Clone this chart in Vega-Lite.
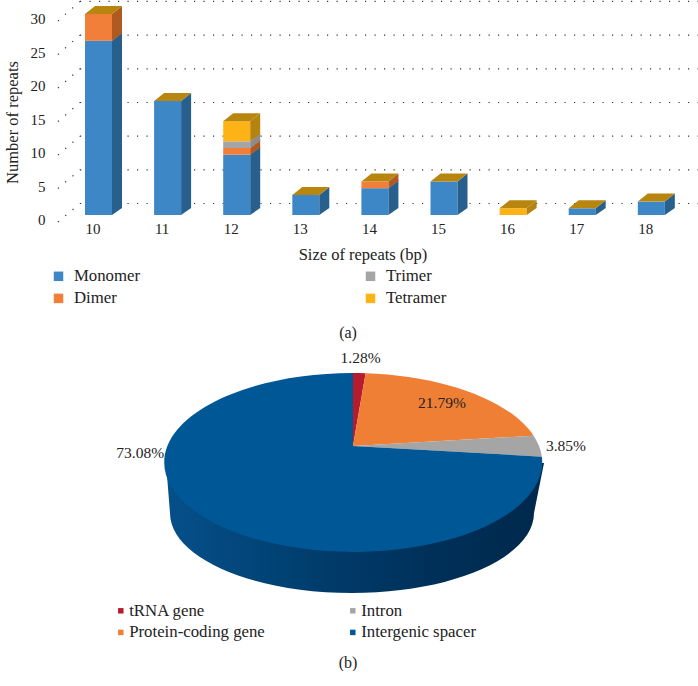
{
"$schema":"https://vega.github.io/schema/vega-lite/v6.json",
"padding":{"left":4,"top":0,"right":0,"bottom":0},
"background":"white",
"bounds":"flush",
"spacing":135,
"resolve":{"scale":{"fill":"independent","color":"independent"},"legend":{"fill":"independent"}},
"config":{"view":{"stroke":null},"font":"Liberation Serif","title":{"font":"Liberation Serif","fontWeight":"normal","fontSize":16,"color":"#222"}},
"vconcat":[
{
"width":648,"height":215,
"title":{"text":"(a)","orient":"bottom","offset":17,"dx":-27,"anchor":"middle"},
"resolve":{"axis":{"x":"independent","y":"independent"}},
"layer":[
{
"data":{"values":[{"tick":0},{"tick":5},{"tick":10},{"tick":15},{"tick":20},{"tick":25},{"tick":30}]},
"transform":[{"calculate":"datum.tick*1.005+1.72","as":"back"},{"calculate":"9.732","as":"x0"},{"calculate":"18.69","as":"x1"}],
"mark":{"type":"rule","color":"#333","strokeWidth":1.2,"strokeDash":[1.2,8.3]},
"encoding":{"x":{"field":"x0","type":"quantitative","scale":{"domain":[9.3126,18.69],"nice":false,"zero":false,"padding":0},"axis":null},"x2":{"field":"x1"},"y":{"field":"back","type":"quantitative","scale":{"domain":[0,32.09],"nice":false,"zero":false},"axis":null}}
},
{
"data":{"values":[{"tick":0},{"tick":5},{"tick":10},{"tick":15},{"tick":20},{"tick":25},{"tick":30}]},
"transform":[{"calculate":"datum.tick*1.005+1.72","as":"back"},{"calculate":"datum.tick-1.04","as":"front"},{"calculate":"9.732","as":"x0"},{"calculate":"9.414","as":"xf"}],
"mark":{"type":"rule","color":"#333","strokeWidth":1.2,"strokeDash":[1.2,8.3]},
"encoding":{"x":{"field":"xf","type":"quantitative","scale":{"domain":[9.3126,18.69],"nice":false,"zero":false,"padding":0},"axis":null},"x2":{"field":"x0"},"y":{"field":"front","type":"quantitative","scale":{"domain":[0,32.09],"nice":false,"zero":false},"axis":null},"y2":{"field":"back"}}
},
{
"data":{"values":[
{"size":10,"series":"Monomer","value":26},{"size":10,"series":"Dimer","value":4},
{"size":11,"series":"Monomer","value":17},
{"size":12,"series":"Monomer","value":9},{"size":12,"series":"Dimer","value":1},{"size":12,"series":"Trimer","value":1},{"size":12,"series":"Tetramer","value":3},
{"size":13,"series":"Monomer","value":3},
{"size":14,"series":"Monomer","value":4},{"size":14,"series":"Dimer","value":1},
{"size":15,"series":"Monomer","value":5},
{"size":16,"series":"Tetramer","value":1},
{"size":17,"series":"Monomer","value":1},
{"size":18,"series":"Monomer","value":2}
]},
"transform":[
{"calculate":"indexof(['Monomer','Dimer','Trimer','Tetramer'],datum.series)","as":"rank"},
{"stack":"value","groupby":["size"],"sort":[{"field":"rank","order":"ascending"}],"as":["y0","y1"]},
{"joinaggregate":[{"op":"max","field":"y1","as":"stackTop"}],"groupby":["size"]},
{"calculate":"'M13.5,0L23.5,-8L23.5,'+(round(datum.value*670-700)/100)+'L13.5,'+(round(datum.value*670)/100)+'Z'","as":"sidePath"}
],
"resolve":{"axis":{"x":"independent","y":"independent"}},
"layer":[
{"mark":{"type":"bar","width":27,"orient":"vertical"},
"encoding":{
"x":{"field":"size","type":"quantitative","scale":{"domain":[9.3126,18.69],"nice":false,"zero":false,"padding":0},
"axis":{"values":[10,11,12,13,14,15,16,17,18],"format":"d","title":"Size of repeats (bp)","grid":false,"domain":false,"ticks":false,"labelFont":"Liberation Serif","labelFontSize":15,"labelColor":"#222","labelPadding":6,"labelOffset":-6,"titleFont":"Liberation Serif","titleFontSize":16.5,"titleFontWeight":"normal","titleColor":"#222","titlePadding":10,"titleX":311.5}},
"y":{"field":"y0","type":"quantitative","scale":{"domain":[0,32.09],"nice":false,"zero":false},
"axis":{"values":[0,5,10,15,20,25,30],"title":"Number of repeats","grid":false,"domain":false,"ticks":false,"labelFont":"Liberation Serif","labelFontSize":15,"labelColor":"#222","labelPadding":6,"labelOffset":4.5,"titleFont":"Liberation Serif","titleFontSize":16.5,"titleFontWeight":"normal","titleColor":"#222","titleX":-31,"titleY":122}},
"y2":{"field":"y1"},
"fill":{"field":"series","type":"nominal","scale":{"domain":["Monomer","Dimer","Trimer","Tetramer"],"range":["#3D87C6","#F17F3A","#A5A5A5","#FDB315"]},
"legend":{"title":null,"orient":"none","legendX":-0.9,"legendY":267.5,"columns":2,"direction":"vertical","symbolType":"square","symbolSize":90,"labelFont":"Liberation Serif","labelFontSize":16.8,"labelColor":"#222","labelOffset":7,"rowPadding":4.5,"columnPadding":222,"gridAlign":"each"}}
}},
{"mark":{"type":"point","filled":true,"opacity":1,"size":4,"strokeWidth":0},
"encoding":{
"x":{"field":"size","type":"quantitative","scale":{"domain":[9.3126,18.69],"nice":false,"zero":false,"padding":0},"axis":null},
"y":{"field":"y1","type":"quantitative","scale":{"domain":[0,32.09],"nice":false,"zero":false},"axis":null},
"shape":{"field":"sidePath","type":"nominal","scale":null,"legend":null},
"color":{"field":"series","type":"nominal","scale":{"domain":["Monomer","Dimer","Trimer","Tetramer"],"range":["#27608D","#B05A22","#8C8C8C","#B58410"]},"legend":null}
}},
{"transform":[{"filter":"datum.y1==datum.stackTop"}],
"mark":{"type":"point","filled":true,"opacity":1,"size":4,"strokeWidth":0,"fill":"#B8860F","shape":"M-13.5,0L-3.5,-8L23.5,-8L13.5,0Z"},
"encoding":{
"x":{"field":"size","type":"quantitative","scale":{"domain":[9.3126,18.69],"nice":false,"zero":false,"padding":0},"axis":null},
"y":{"field":"y1","type":"quantitative","scale":{"domain":[0,32.09],"nice":false,"zero":false},"axis":null}
}}
]
}
]
},
{
"width":648,"height":300,
"title":{"text":"(b)","orient":"bottom","offset":5,"dx":-27,"anchor":"middle"},
"data":{"values":[
{"region":"tRNA gene","percent":1.28},
{"region":"Protein-coding gene","percent":21.79},
{"region":"Intron","percent":3.85},
{"region":"Intergenic spacer","percent":73.08}
]},
"transform":[
{"stack":"percent","groupby":[],"as":["p0","p1"]},
{"calculate":"2*PI*datum.p0/100","as":"t0"},
{"calculate":"2*PI*datum.p1/100","as":"t1"},
{"calculate":"'M0,0L'+(round(18600*sin(datum.t0)/(1+0.184*cos(datum.t0)))/100)+','+(round(-8650*cos(datum.t0)/(1+0.184*cos(datum.t0)))/100)+'A189,89.5 0 '+(datum.percent>50?1:0)+' 1 '+(round(18600*sin(datum.t1)/(1+0.184*cos(datum.t1)))/100)+','+(round(-8650*cos(datum.t1)/(1+0.184*cos(datum.t1)))/100)+'Z'","as":"wedge"},
{"calculate":"datum.region==='Intergenic spacer'?4.643:(datum.t0+datum.t1)/2","as":"la"},
{"calculate":"datum.region==='tRNA gene'?1.25:datum.region==='Protein-coding gene'?0.76:datum.region==='Intron'?1.145:1.13","as":"lr"},
{"calculate":"186*datum.lr*sin(datum.la)/(1+0.184*datum.lr*cos(datum.la))","as":"lx"},
{"calculate":"-86.5*datum.lr*cos(datum.la)/(1+0.184*datum.lr*cos(datum.la))","as":"ly"},
{"calculate":"format(datum.percent,'.2f')+'%'","as":"label"}
],
"layer":[
{"transform":[{"filter":"datum.region==='Intergenic spacer'"}],
"mark":{"type":"point","filled":true,"opacity":1,"size":4,"strokeWidth":0,"shape":"M-187,17L-183,67A182,80 0 0 0 181,67L191,17Z",
"fill":{"gradient":"linear","x1":0,"y1":0,"x2":1,"y2":0,"stops":[{"offset":0,"color":"#05508A"},{"offset":0.35,"color":"#003F70"},{"offset":0.7,"color":"#003059"},{"offset":1,"color":"#00284C"}]}},
"encoding":{
"x":{"datum":0,"type":"quantitative","scale":{"domain":[-302,346],"nice":false,"zero":false},"axis":null},
"y":{"datum":0,"type":"quantitative","scale":{"domain":[-96,204],"nice":false,"zero":false,"reverse":true},"axis":null}
}},
{"mark":{"type":"point","filled":true,"opacity":1,"size":4,"strokeWidth":0},
"encoding":{
"x":{"datum":0,"type":"quantitative","scale":{"domain":[-302,346],"nice":false,"zero":false},"axis":null},
"y":{"datum":0,"type":"quantitative","scale":{"domain":[-96,204],"nice":false,"zero":false,"reverse":true},"axis":null},
"shape":{"field":"wedge","type":"nominal","scale":null,"legend":null},
"fill":{"field":"region","type":"nominal","scale":{"domain":["tRNA gene","Protein-coding gene","Intron","Intergenic spacer"],"range":["#B71C2C","#F07F36","#A5A5A5","#005795"]},
"legend":{"title":null,"orient":"none","legendX":61.4,"legendY":252,"columns":2,"direction":"vertical","symbolType":"square","symbolSize":30,"labelFont":"Liberation Serif","labelFontSize":16.8,"labelColor":"#222","labelOffset":0,"rowPadding":4,"columnPadding":79,"gridAlign":"each"}}
}},
{"mark":{"type":"text","font":"Liberation Serif","fontSize":15.5,"color":"#222"},
"encoding":{
"x":{"field":"lx","type":"quantitative","scale":{"domain":[-302,346],"nice":false,"zero":false},"axis":null},
"y":{"field":"ly","type":"quantitative","scale":{"domain":[-96,204],"nice":false,"zero":false,"reverse":true},"axis":null},
"text":{"field":"label","type":"nominal"}
}}
]
}
]
}
